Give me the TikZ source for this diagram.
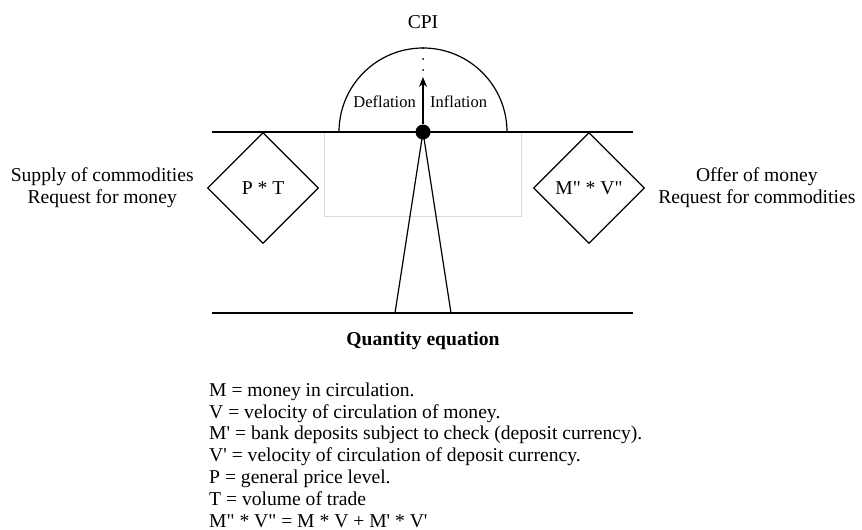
\documentclass[tikz,border=0pt]{standalone}
\usepackage{fontspec}
\setmainfont{Liberation Serif}
\usetikzlibrary{shapes.geometric,positioning,arrows.meta}
\newcommand{\prm}{\textquotesingle}
\newcommand{\dprm}{\textquotedbl}

\begin{document}
\begin{tikzpicture}[x=1pt, y=-1pt, font=\fontsize{19.6}{21.8}\selectfont]
        % Stijlen
        \tikzstyle{beam} = [line width=1.2pt]
        \tikzstyle{ratio} = [diamond, draw, line width=1.2pt, minimum width=111pt, minimum height=111pt, inner sep=0pt]
        \tikzstyle{side} = [align=center, inner sep=0pt]
        \tikzstyle{small} = [font=\fontsize{16.5}{19}\selectfont, inner sep=0pt]
        \tikzstyle{arrow} = [line width=1.2pt, -{Stealth[length=10pt, width=8pt]}]

        \useasboundingbox (0,0) rectangle (862,530);

        % Vaste punten
        \coordinate (tl) at (212,132);
        \coordinate (tr) at (633,132);
        \coordinate (bl) at (212,313);
        \coordinate (br) at (633,313);
        \coordinate (fl) at (395,313);
        \coordinate (fr) at (451,313);
        \coordinate (tip) at (423,77);
        \coordinate (top) at (423,48);

        % Achtergrondvak
        \draw [gray!30, line width=0.8pt] (324,132) rectangle (521,216);

        % Balans
        \draw [beam] (tl) -- (tr);
        \draw [beam] (bl) -- (br);
        \node (pivot) [circle, fill, minimum size=15pt, inner sep=0pt] at (423,132) {};
        \draw [beam] (fl) -- (pivot.center) -- (fr);
        \draw [beam] ([xshift=-84pt]pivot.center) arc (180:360:84);
        \draw [arrow] (pivot) -- (tip);
        \draw [line width=2pt, line cap=round, dash pattern=on 0pt off 11pt] (top) -- (tip);

        % Knopen
        \node (cpi) [inner sep=0pt, above=19pt of top] {CPI};
        \node (defl) [small, anchor=east] at (416,102) {Deflation};
        \node (infl) [small, anchor=west] at (430,102) {Inflation};
        \node (pt) [ratio] at (263,188) {P * T};
        \node (mv) [ratio] at (589,188) {M\dprm{} * V\dprm};
        \node (supply) [side, left=13pt of pt] {Supply of commodities\\Request for money};
        \node (offer) [side, right=13pt of mv] {Offer of money\\Request for commodities};
        \node (qe) [inner sep=0pt, font=\fontsize{19.6}{21.8}\selectfont\bfseries] at (423,341) {Quantity equation};

        % Legenda
        \node (legend) [align=left, anchor=west, inner sep=0pt] at (209,455) {M = money in circulation.\\
            V = velocity of circulation of money.\\
            M\prm{} = bank deposits subject to check (deposit currency).\\
            V\prm{} = velocity of circulation of deposit currency.\\
            P = general price level.\\
            T = volume of trade\\
            M\dprm{} * V\dprm{} = M * V + M\prm{} * V\prm};

\end{tikzpicture}
\end{document}
